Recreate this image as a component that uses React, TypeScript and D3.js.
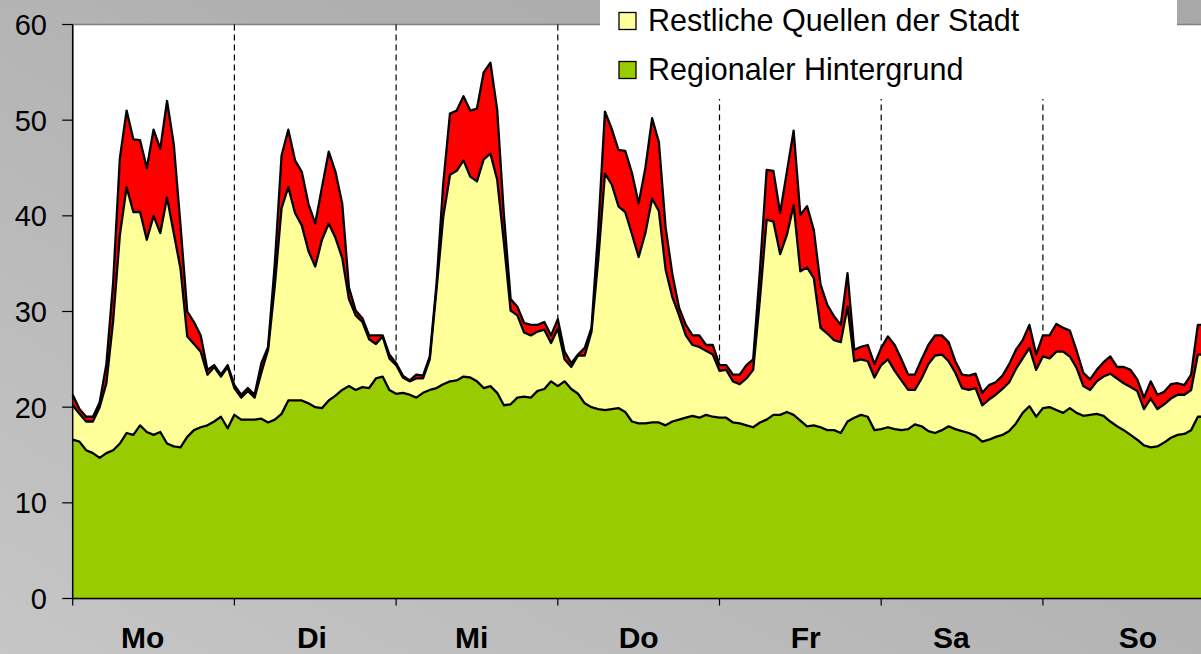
import React from "react";
import * as d3 from "d3";

// Hourly values, Monday 0:00 through next Monday 0:00 (169 points)
// Cumulative levels
const regionalBackground = [
  16.6, 16.4, 15.5, 15.2, 14.7, 15.2, 15.5, 16.2, 17.3, 17.1, 18.1, 17.4, 17.1, 17.4, 16.2, 15.9, 15.8, 16.9, 17.6, 17.9, 18.1, 18.5, 19.0, 17.8,
  19.2, 18.7, 18.7, 18.7, 18.8, 18.4, 18.7, 19.3, 20.7, 20.7, 20.7, 20.4, 20.0, 19.9, 20.7, 21.2, 21.8, 22.2, 21.8, 22.1, 22.0, 23.0, 23.2, 21.8,
  21.4, 21.5, 21.3, 21.0, 21.5, 21.8, 22.0, 22.4, 22.7, 22.8, 23.2, 23.1, 22.7, 22.0, 22.2, 21.5, 20.2, 20.3, 21.0, 21.1, 21.0, 21.7, 21.9, 22.7,
  22.2, 22.7, 21.9, 21.4, 20.4, 20.0, 19.8, 19.7, 19.8, 19.9, 19.5, 18.5, 18.3, 18.3, 18.4, 18.4, 18.1, 18.5, 18.7, 18.9, 19.1, 18.9, 19.2, 19.0,
  18.9, 18.9, 18.4, 18.3, 18.1, 17.9, 18.4, 18.7, 19.2, 19.2, 19.5, 19.2, 18.6, 18.0, 18.1, 17.9, 17.6, 17.6, 17.3, 18.5, 18.9, 19.2, 19.0, 17.6,
  17.7, 17.9, 17.7, 17.6, 17.7, 18.2, 18.0, 17.5, 17.3, 17.6, 18.0, 17.7, 17.5, 17.3, 17.0, 16.4, 16.6, 16.9, 17.1, 17.5, 18.3, 19.4, 20.1, 19.0,
  19.9, 20.0, 19.7, 19.4, 19.9, 19.4, 19.1, 19.2, 19.3, 19.1, 18.5, 18.0, 17.6, 17.1, 16.6, 16.0, 15.8, 15.9, 16.3, 16.8, 17.1, 17.2, 17.6, 19.0,
  19.0,
];

const cityLevel = [
  20.2, 19.3, 18.5, 18.5, 20.0, 22.5, 29.0, 38.0, 43.0, 40.4, 40.4, 37.5, 40.0, 38.2, 41.9, 38.2, 34.5, 27.4, 26.6, 25.8, 23.4, 24.2, 23.2, 24.2,
  22.0, 21.0, 21.7, 21.0, 23.6, 26.0, 32.7, 40.8, 43.0, 40.3, 39.0, 36.3, 34.7, 37.5, 39.2, 37.7, 35.6, 31.3, 29.6, 28.9, 27.1, 26.6, 27.4, 25.1,
  24.4, 23.1, 22.7, 23.0, 23.0, 25.0, 32.3, 39.9, 44.3, 44.7, 45.8, 44.1, 43.6, 45.9, 46.5, 43.8, 37.2, 30.1, 29.6, 27.8, 27.5, 27.9, 28.1, 26.7,
  28.2, 25.0, 24.2, 25.4, 25.4, 27.9, 35.4, 44.4, 43.3, 41.0, 40.4, 38.1, 35.7, 38.2, 41.8, 40.5, 34.4, 31.5, 29.6, 27.5, 26.5, 26.3, 25.9, 25.5,
  23.8, 23.9, 22.7, 22.4, 23.0, 23.9, 31.3, 39.6, 39.4, 36.0, 38.0, 41.1, 34.2, 34.6, 33.5, 28.3, 27.7, 27.0, 26.8, 30.5, 24.8, 25.0, 24.8, 23.1,
  24.4, 25.0, 23.8, 22.8, 21.8, 21.8, 23.0, 24.5, 25.4, 25.5, 24.8, 23.6, 22.0, 21.8, 22.0, 20.2, 20.8, 21.3, 21.9, 22.6, 24.0, 25.1, 26.2, 23.9,
  25.3, 25.1, 25.8, 25.8, 25.3, 24.1, 22.2, 21.8, 22.7, 23.2, 23.5, 23.0, 22.5, 22.1, 21.7, 19.8, 20.9, 19.8, 20.3, 20.9, 21.3, 21.3, 21.8, 25.5,
  25.5,
];

const totalLevel = [
  21.3, 19.8, 19.0, 19.0, 20.5, 24.5, 33.0, 46.0, 51.0, 48.0, 47.9, 45.0, 49.0, 47.0, 52.0, 47.5, 39.0, 30.0, 28.9, 27.5, 23.9, 24.4, 23.4, 24.4,
  22.3, 21.3, 22.0, 21.3, 24.6, 26.3, 35.0, 46.3, 49.0, 45.8, 44.6, 41.2, 39.2, 43.0, 46.7, 44.6, 41.3, 32.5, 30.1, 29.3, 27.5, 27.5, 27.5, 25.5,
  24.6, 23.3, 22.8, 23.4, 23.3, 25.3, 32.9, 43.4, 50.7, 51.0, 52.5, 51.0, 51.2, 55.0, 56.0, 51.1, 40.1, 31.3, 30.5, 28.8, 28.6, 28.6, 28.9, 27.5,
  29.2, 25.8, 24.6, 25.5, 26.2, 28.3, 38.5, 50.9, 49.1, 46.9, 46.8, 44.5, 41.3, 45.0, 50.2, 47.7, 38.8, 33.9, 30.4, 28.6, 27.5, 27.5, 26.5, 26.5,
  24.4, 24.4, 23.4, 23.4, 24.4, 25.0, 34.3, 44.8, 44.7, 40.3, 44.6, 48.9, 40.1, 41.0, 38.5, 32.8, 30.7, 29.5, 28.6, 34.0, 26.0, 26.3, 26.5, 24.5,
  26.2, 27.4, 26.5, 25.0, 23.4, 23.4, 25.0, 26.5, 27.5, 27.5, 26.8, 24.8, 23.4, 23.3, 23.5, 21.5, 22.3, 22.6, 23.3, 24.5, 26.0, 27.0, 28.6, 25.5,
  27.5, 27.5, 28.7, 28.3, 28.0, 25.9, 23.6, 22.9, 23.9, 24.7, 25.3, 24.2, 24.2, 23.9, 22.9, 21.0, 22.7, 21.3, 21.6, 22.4, 22.5, 22.3, 23.4, 28.6,
  28.6,
];

const dayLabels = ["Mo", "Di", "Mi", "Do", "Fr", "Sa", "So"];
const dayLabelHours = [10.4, 35.5, 59.2, 84.0, 108.8, 130.4, 158.1];
const dayBoundaries = [0, 24, 48, 72, 96, 120, 144, 168];
const yTicks = [0, 10, 20, 30, 40, 50, 60];
const legendItems = [
  { label: "Restliche Quellen der Stadt", color: "#ffff99" },
  { label: "Regionaler Hintergrund", color: "#99cc00" },
];

const W = 1201;
const H = 654;
const FONT = "'Liberation Sans', Arial, sans-serif";

export default function App() {
  const x = d3.scaleLinear().domain([0, 168]).range([72.7, 72.7 + 168 * 6.7375]);
  const y = d3.scaleLinear().domain([0, 60]).range([598.5, 24.5]);
  const idx = d3.range(totalLevel.length);

  const areaBetween = (lo: (i: number) => number, hi: (i: number) => number) =>
    d3
      .area<number>()
      .x((i) => x(i))
      .y0((i) => y(lo(i)))
      .y1((i) => y(hi(i)))(idx) || "";
  const lineOf = (arr: number[]) =>
    d3
      .line<number>()
      .x((i) => x(i))
      .y((i) => y(arr[i]))(idx) || "";

  const plotLeft = x(0);
  const plotTop = y(60);
  const plotBottom = y(0);

  return (
    <svg
      width={W}
      height={H}
      style={{ position: "absolute", left: 0, top: 0, display: "block" }}
      fontFamily={FONT}
    >
      <defs>
        <linearGradient id="bg" x1="0" y1="1" x2="1" y2="0">
          <stop offset="0" stopColor="#c6c6c6" />
          <stop offset="0.6" stopColor="#b0b0b0" />
          <stop offset="1" stopColor="#a8a8a8" />
        </linearGradient>
      </defs>
      <rect x={0} y={0} width={W} height={H} fill="url(#bg)" />
      <rect x={plotLeft} y={plotTop} width={W - plotLeft + 10} height={plotBottom - plotTop} fill="#ffffff" stroke="#808080" strokeWidth={1.5} />

      {dayBoundaries.slice(1, -1).map((h) => (
        <line key={h} x1={x(h)} x2={x(h)} y1={plotTop} y2={plotBottom} stroke="#000" strokeWidth={1.2} strokeDasharray="6 4" />
      ))}

      <path d={areaBetween(() => 0, (i) => regionalBackground[i])} fill="#99cc00" />
      <path d={areaBetween((i) => regionalBackground[i], (i) => cityLevel[i])} fill="#ffff99" />
      <path d={areaBetween((i) => cityLevel[i], (i) => totalLevel[i])} fill="#ff0000" />
      {[regionalBackground, cityLevel, totalLevel].map((arr, k) => (
        <path key={k} d={lineOf(arr)} fill="none" stroke="#000" strokeWidth={2.3} strokeLinejoin="round" />
      ))}

      {/* axes */}
      <line x1={plotLeft} x2={plotLeft} y1={plotTop} y2={plotBottom} stroke="#000" strokeWidth={1.5} />
      <line x1={plotLeft} x2={W} y1={plotBottom} y2={plotBottom} stroke="#000" strokeWidth={1.5} />
      {yTicks.map((t) => (
        <g key={t}>
          <line x1={plotLeft - 10.5} x2={plotLeft} y1={y(t)} y2={y(t)} stroke="#000" strokeWidth={1.2} />
          <text x={47} y={y(t) + 10.5} textAnchor="end" fontSize={29} fill="#000">
            {t}
          </text>
        </g>
      ))}
      {dayBoundaries.map((h) => (
        <line key={h} x1={x(h)} x2={x(h)} y1={plotBottom} y2={plotBottom + 7} stroke="#000" strokeWidth={1.2} />
      ))}
      {dayLabels.map((d, k) => (
        <text key={d} x={x(dayLabelHours[k])} y={648} textAnchor="middle" fontSize={30} fontWeight="bold" fill="#000">
          {d}
        </text>
      ))}

      {/* legend */}
      <rect x={600} y={-10} width={577} height={109} fill="#ffffff" />
      {legendItems.map((it, k) => (
        <g key={it.label}>
          <rect x={619} y={12.5 + k * 49} width={17} height={17} fill={it.color} stroke="#000" strokeWidth={1.3} />
          <text x={648} y={30.5 + k * 49} fontSize={30.5} fill="#000">
            {it.label}
          </text>
        </g>
      ))}
    </svg>
  );
}
